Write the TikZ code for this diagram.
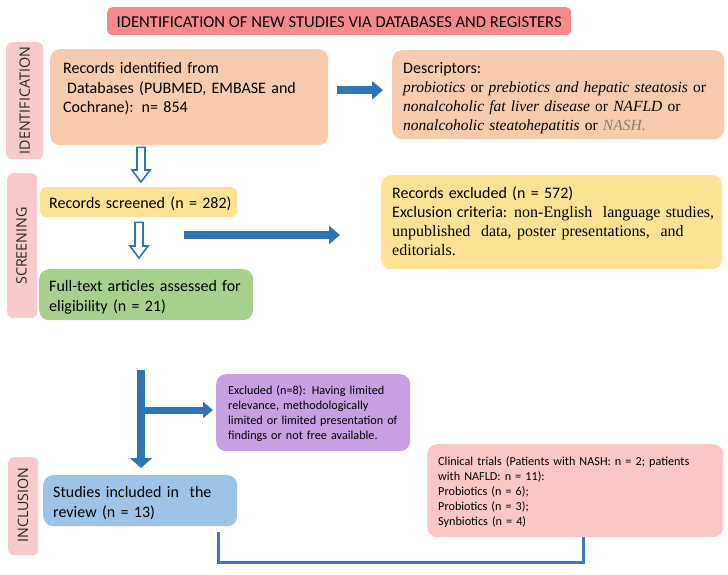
\documentclass[tikz,border=0pt]{standalone}
\usepackage{fontspec}
\setmainfont{Carlito}
\newfontfamily\tnr{Liberation Serif}
\newfontfamily\osans{Open Sans}
\usetikzlibrary{arrows.meta,calc}
\definecolor{titlered}{HTML}{F58A8D}
\definecolor{sidepink}{HTML}{F9CACB}
\definecolor{peach}{HTML}{F8CBAD}
\definecolor{softyellow}{HTML}{FEE395}
\definecolor{softgreen}{HTML}{A8D08D}
\definecolor{softpurple}{HTML}{C6A0E2}
\definecolor{softblue}{HTML}{9DC3E6}
\definecolor{clinpink}{HTML}{FBC7C7}
\definecolor{arrowblue}{HTML}{2E75B6}
\definecolor{linkblue}{HTML}{4472C4}
\definecolor{labelgray}{HTML}{262626}
\begin{document}
\begin{tikzpicture}[x=1pt,y=1pt,
  box/.style={rounded corners=10pt, inner sep=0pt, anchor=north west},
  sidelab/.style={rounded corners=6pt, inner sep=0pt, anchor=north west, fill=sidepink},
  sidetxt/.style={rotate=90, inner sep=0pt, text=labelgray, font=\osans\fontsize{14.3}{17}\selectfont},
  txt/.style={anchor=base west, align=left, inner sep=0pt, text width=340pt, font=\fontsize{16}{19.5}\selectfont},
  smalltxt/.style={anchor=base west, align=left, inner sep=0pt, text width=300pt, font=\fontsize{12.2}{15}\selectfont},
  fat/.style={draw=arrowblue, line width=8pt, -{Triangle[width=18pt,length=11pt]}},
  hollow/.style={draw=arrowblue, line width=1.6pt, fill=white, line join=miter},
  link/.style={draw=linkblue, line width=3pt}
]
\useasboundingbox (0,0) rectangle (728,-574);

% title
\node[box, rounded corners=5pt, fill=titlered, minimum width=464pt, minimum height=28pt] (title) at (107,-7) {};
\node[anchor=base, inner sep=0pt, font=\fontsize{16.6}{18}\selectfont] (titlet) at ($(title.center)+(0,-5.8)$) {IDENTIFICATION OF NEW STUDIES VIA DATABASES AND REGISTERS};

% side labels
\node[sidelab, minimum width=37pt, minimum height=117pt] (idlab) at (6,-42) {};
\node[sidetxt] (idlabt) at ($(idlab.center)+(0,0)$) {IDENTIFICATION};
\node[sidelab, minimum width=30pt, minimum height=145pt] (scrlab) at (7,-173) {};
\node[sidetxt] (scrlabt) at (21.5,-246) {SCREENING};
\node[sidelab, minimum width=30pt, minimum height=98pt] (inclab) at (8,-457) {};
\node[sidetxt] (inclabt) at (23,-505) {INCLUSION};

% boxes
\node[box, fill=peach, minimum width=278pt, minimum height=96pt] (box1) at (50,-49) {};
\node[txt] (box1t) at (63,-73.5) {Records identified from\\\hspace{4pt}Databases (PUBMED, EMBASE and\\Cochrane): n= 854};

\node[box, fill=peach, minimum width=332pt, minimum height=89pt] (desc) at (392,-50) {};
\node[txt] (desct) at (403,-73.5) {Descriptors:};
\node[anchor=base west, align=left, inner sep=0pt, text width=330pt, font=\tnr\fontsize{15.5}{19}\selectfont] (desct2) at (403,-92.5)
 {\textit{probiotics} or \textit{prebiotics and hepatic steatosis} or\\
  \textit{nonalcoholic fat liver disease} or \textit{NAFLD} or\\
  \textit{nonalcoholic steatohepatitis} or \textcolor{gray}{\textit{NASH}.}};

\node[box, rounded corners=6pt, fill=softyellow, minimum width=197pt, minimum height=30pt] (screened) at (40,-187) {};
\node[txt] (screenedt) at (49,-208.5) {Records screened (n = 282)};

\node[box, fill=softyellow, minimum width=341pt, minimum height=94pt] (excl) at (381,-175) {};
\node[txt] (exclt) at (392,-198.5) {Records excluded (n = 572)};
\node[anchor=base west, inner sep=0pt] (exclt2) at (392,-217.5)
 {\fontsize{16}{19}\selectfont\makebox[322pt][s]{Exclusion criteria: {\tnr non-English\ \ language studies,}}};
\node[anchor=base west, align=left, inner sep=0pt, text width=330pt, font=\tnr\fontsize{16}{19}\selectfont] (exclt3) at (392,-236.5)
 {unpublished\ \ data, poster presentations,\ \ and\\editorials.};

\node[box, fill=softgreen, minimum width=214pt, minimum height=51pt] (full) at (39,-269) {};
\node[txt] (fullt) at (49,-291.5) {Full-text articles assessed for\\eligibility (n = 21)};

\node[box, fill=softpurple, minimum width=194pt, minimum height=77pt] (purple) at (216,-374) {};
\node[smalltxt] (purplet) at (228,-394.5) {Excluded (n=8): Having limited\\relevance, methodologically\\limited or limited presentation of\\findings or not free available.};

\node[box, fill=softblue, minimum width=194pt, minimum height=51pt] (studies) at (43,-475) {};
\node[txt] (studiest) at (53,-497.5) {Studies included in\ \ the\\review (n = 13)};

\node[box, fill=clinpink, minimum width=296pt, minimum height=93pt] (clin) at (427,-444) {};
\node[smalltxt] (clint) at (438,-465.5) {Clinical trials (Patients with NASH: n = 2; patients\\with NAFLD: n = 11):\\Probiotics (n = 6);\\Probiotics (n = 3);\\Synbiotics (n = 4)};

% hollow arrows
\draw[hollow] let \p1=(box1.south), \p2=(screened.north) in
  (137,\y1-2) -- (145,\y1-2) -- (145,\y2+17) -- (150,\y2+17) -- (141,\y2+5) -- (132,\y2+17) -- (137,\y2+17) -- cycle;
\draw[hollow] let \p1=(screened.south), \p2=(full.north) in
  (135,\y1-5) -- (143,\y1-5) -- (143,\y2+23) -- (148,\y2+23) -- (139,\y2+11) -- (130,\y2+23) -- (135,\y2+23) -- cycle;

% fat arrows
\draw[fat, shorten <=9pt, shorten >=9pt] ([yshift=7pt]box1.east) -- ([yshift=7pt]box1.east -| desc.west);
\coordinate (a2) at (184,-235);
\draw[fat, shorten >=41pt] (a2) -- (a2 -| excl.west);
\coordinate (a3) at (141,-370);
\draw[fat, -{Triangle[width=22pt,length=10pt]}, shorten >=7pt] (a3) -- (a3 |- studies.north);
\coordinate (a4) at (145,-410);
\draw[fat, line width=7pt, -{Triangle[width=16pt,length=10pt]}, shorten >=3pt] (a4) -- (a4 -| purple.west);

% bottom link
\draw[link] ([shift={(78,-6)}]studies.south) -- ++(0,-30) -| ([xshift=8pt]clin.south);
\end{tikzpicture}
\end{document}
